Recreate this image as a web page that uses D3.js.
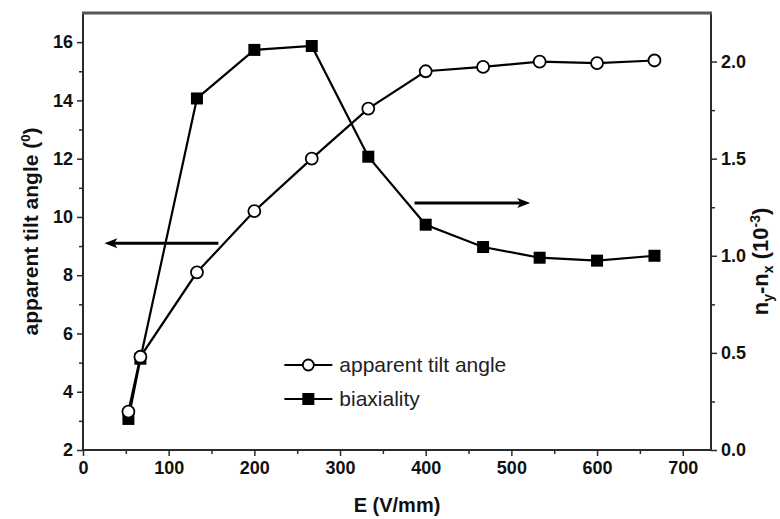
<!DOCTYPE html>
<html>
<head>
<meta charset="utf-8">
<script src="https://cdn.jsdelivr.net/npm/d3@7"></script>
<style>
  html, body { margin: 0; padding: 0; background: #fff; }
  svg { display: block; font-family: "Liberation Sans", Arial, sans-serif; }
</style>
</head>
<body>
<div id="chart"></div>
<script>
// field values (V/mm)
const fieldE = [53, 67, 133, 200, 267, 333, 400, 467, 533, 600, 667];
// apparent tilt angle (deg), left axis
const tiltAngle = [3.32, 5.2, 8.1, 10.2, 12.0, 13.72, 15.0, 15.15, 15.33, 15.28, 15.37];
// biaxiality n_y - n_x (1e-3), right axis
const biaxiality = [0.16, 0.47, 1.81, 2.06, 2.08, 1.51, 1.16, 1.045, 0.99, 0.975, 1.0];

const xTicks = [0, 100, 200, 300, 400, 500, 600, 700];
const leftTicks = [2, 4, 6, 8, 10, 12, 14, 16];
const rightTicks = [0.0, 0.5, 1.0, 1.5, 2.0];

// arrows in data units (E, tilt angle)
const arrowLeft = { from: [158, 9.1], to: [25, 9.1] };
const arrowRight = { from: [387, 10.48], to: [522, 10.48] };

const W = 780, H = 519;
const m = { top: 13, right: 69, bottom: 69, left: 83 };
const w = W - m.left - m.right;
const h = H - m.top - m.bottom;

const svg = d3.select("#chart").append("svg")
  .attr("width", W).attr("height", H);
const g = svg.append("g").attr("transform", `translate(${m.left},${m.top})`);

const x = d3.scaleLinear().domain([0, 733]).range([0, w]);
const yL = d3.scaleLinear().domain([2, 17]).range([h, 0]);
const yR = d3.scaleLinear().domain([0, 2.25]).range([h, 0]);

const axisColor = "#2a2a2a";

// minor ticks
const minorX = d3.range(50, 733, 100);
const minorL = d3.range(3, 17, 2);
const minorR = d3.range(0.25, 2.25, 0.5);

function styleAxis(sel) {
  sel.select(".domain").remove();
  sel.selectAll(".tick line").attr("stroke", axisColor).attr("stroke-width", 1.5);
  sel.selectAll(".tick text")
    .attr("fill", "#111")
    .style("font-size", "18px")
    .style("font-weight", "bold");
}

g.append("g").attr("transform", `translate(0,${h})`)
  .call(d3.axisBottom(x).tickValues(xTicks).tickSize(6).tickPadding(5).tickFormat(d3.format("d")))
  .call(styleAxis);
g.append("g").attr("transform", `translate(0,${h})`)
  .call(d3.axisBottom(x).tickValues(minorX).tickSize(4).tickFormat(""))
  .call(styleAxis);

g.append("g")
  .call(d3.axisLeft(yL).tickValues(leftTicks).tickSize(6).tickPadding(4).tickFormat(d3.format("d")))
  .call(styleAxis);
g.append("g")
  .call(d3.axisLeft(yL).tickValues(minorL).tickSize(4).tickFormat(""))
  .call(styleAxis);

g.append("g").attr("transform", `translate(${w},0)`)
  .call(d3.axisRight(yR).tickValues(rightTicks).tickSize(6).tickPadding(4).tickFormat(d3.format(".1f")))
  .call(styleAxis);
g.append("g").attr("transform", `translate(${w},0)`)
  .call(d3.axisRight(yR).tickValues(minorR).tickSize(4).tickFormat(""))
  .call(styleAxis);

// frame
g.append("line").attr("x1", 0).attr("x2", w).attr("y1", h).attr("y2", h)
  .attr("stroke", axisColor).attr("stroke-width", 2);
g.append("line").attr("x1", 0).attr("x2", 0).attr("y1", 0).attr("y2", h)
  .attr("stroke", axisColor).attr("stroke-width", 2);
g.append("line").attr("x1", w).attr("x2", w).attr("y1", 0).attr("y2", h)
  .attr("stroke", axisColor).attr("stroke-width", 2);
g.append("line").attr("x1", -1).attr("x2", w + 1).attr("y1", 0).attr("y2", 0)
  .attr("stroke", "#555").attr("stroke-width", 3);

// series lines
const lineTilt = d3.line().x((d, i) => x(fieldE[i])).y(d => yL(d));
const lineBiax = d3.line().x((d, i) => x(fieldE[i])).y(d => yR(d));

g.append("path").datum(biaxiality)
  .attr("fill", "none").attr("stroke", "#000").attr("stroke-width", 2.2)
  .attr("d", lineBiax);
g.append("path").datum(tiltAngle)
  .attr("fill", "none").attr("stroke", "#000").attr("stroke-width", 2.2)
  .attr("d", lineTilt);

const sq = 12;
g.selectAll(".sq").data(biaxiality).enter().append("rect")
  .attr("x", (d, i) => x(fieldE[i]) - sq / 2)
  .attr("y", d => yR(d) - sq / 2)
  .attr("width", sq).attr("height", sq)
  .attr("fill", "#000");

g.selectAll(".circ").data(tiltAngle).enter().append("circle")
  .attr("cx", (d, i) => x(fieldE[i]))
  .attr("cy", d => yL(d))
  .attr("r", 6)
  .attr("fill", "#fff").attr("stroke", "#000").attr("stroke-width", 1.8);

// arrows
function drawArrow(a) {
  const x1 = x(a.from[0]), y1 = yL(a.from[1]);
  const x2 = x(a.to[0]), y2 = yL(a.to[1]);
  const dir = Math.sign(x2 - x1);
  const head = 13;
  g.append("line")
    .attr("x1", x1).attr("y1", y1).attr("x2", x2 - dir * head * 0.7).attr("y2", y2)
    .attr("stroke", "#000").attr("stroke-width", 3);
  g.append("path")
    .attr("d", `M${x2},${y2} L${x2 - dir * head},${y2 - 5} L${x2 - dir * head * 0.75},${y2} L${x2 - dir * head},${y2 + 5} Z`)
    .attr("fill", "#000");
}
drawArrow(arrowLeft);
drawArrow(arrowRight);

// legend
const legend = g.append("g").attr("transform", `translate(${x(235)},0)`);
const legendItems = [
  { label: "apparent tilt angle", y: 352, type: "circle" },
  { label: "biaxiality", y: 386, type: "square" }
];
legendItems.forEach(it => {
  legend.append("line").attr("x1", 0).attr("x2", 48).attr("y1", it.y).attr("y2", it.y)
    .attr("stroke", "#000").attr("stroke-width", 2.2);
  if (it.type === "circle") {
    legend.append("circle").attr("cx", 24).attr("cy", it.y).attr("r", 5.5)
      .attr("fill", "#fff").attr("stroke", "#000").attr("stroke-width", 1.8);
  } else {
    legend.append("rect").attr("x", 18).attr("y", it.y - 6).attr("width", 12).attr("height", 12)
      .attr("fill", "#000");
  }
  legend.append("text").attr("x", 55).attr("y", it.y + 7)
    .style("font-size", "21px").attr("fill", "#222").text(it.label);
});

// axis titles
svg.append("text")
  .attr("x", m.left + w / 2).attr("y", 512)
  .attr("text-anchor", "middle")
  .style("font-size", "20px").style("font-weight", "bold").attr("fill", "#111")
  .text("E (V/mm)");

const lt = svg.append("text")
  .attr("transform", `translate(38,${m.top + h / 2}) rotate(-90)`)
  .attr("text-anchor", "middle")
  .style("font-size", "21px").style("font-weight", "bold").attr("fill", "#111");
lt.append("tspan").text("apparent tilt angle (");
lt.append("tspan").attr("dy", -8).style("font-size", "13px").text("0");
lt.append("tspan").attr("dy", 8).text(")");

const rt = svg.append("text")
  .attr("transform", `translate(768,${m.top + h / 2 + 30}) rotate(-90)`)
  .attr("text-anchor", "middle")
  .style("font-size", "22px").style("font-weight", "bold").attr("fill", "#111");
rt.append("tspan").text("n");
rt.append("tspan").attr("dy", 5).style("font-size", "14px").text("y");
rt.append("tspan").attr("dy", -5).text("-n");
rt.append("tspan").attr("dy", 5).style("font-size", "14px").text("x");
rt.append("tspan").attr("dy", -5).text(" (10");
rt.append("tspan").attr("dy", -8).style("font-size", "14px").text("-3");
rt.append("tspan").attr("dy", 8).text(")");
</script>
</body>
</html>
